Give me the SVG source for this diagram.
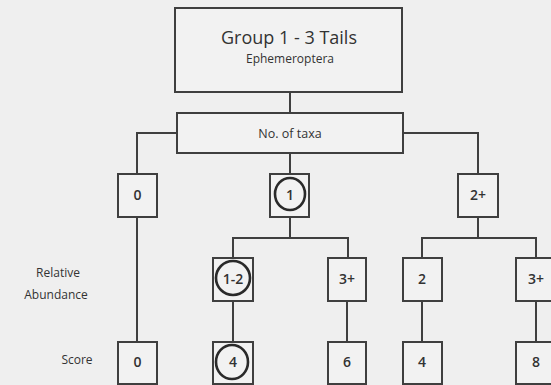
<svg xmlns="http://www.w3.org/2000/svg" width="551" height="385" viewBox="0 0 551 385">
<style>
.bx{fill:#f2f2f2;stroke:#3f3f3f;stroke-width:2}
.ln{fill:none;stroke:#3f3f3f;stroke-width:2}
.ci{fill:none;stroke:#2a2a2a;stroke-width:2.6}
text{font-family:"Open Sans","DejaVu Sans",sans-serif;fill:#333;text-anchor:middle}
.v{font-size:14px;font-weight:600}
.l{font-size:12px}
</style>
<rect width="551" height="385" fill="#efefef"/>
<g id="connectors">
<path class="ln" d="M290 92V113"/>
<path class="ln" d="M177 133H137V174"/>
<path class="ln" d="M403 133H478V174"/>
<path class="ln" d="M290 153V174"/>
<path class="ln" d="M137 217V342"/>
<path class="ln" d="M290 217V238M233 258V238H348V258"/>
<path class="ln" d="M478 217V238M422 258V238H536V258"/>
<path class="ln" d="M233 301V342"/>
<path class="ln" d="M347 301V342"/>
<path class="ln" d="M422 301V342"/>
<path class="ln" d="M536 301V342"/>
</g>
<g id="root"><rect class="bx" x="175" y="8" width="227" height="84"/>
<text x="289" y="44" style="font-size:18px">Group 1 - 3 Tails</text>
<text x="290" y="63" style="font-size:12px">Ephemeroptera</text></g>
<g id="taxa"><rect class="bx" x="177" y="113" width="226" height="40"/>
<text x="290" y="138" style="font-size:12.5px">No. of taxa</text></g>
<g id="n0"><rect class="bx" x="118" y="174" width="39" height="43"/><text class="v" x="137.5" y="200">0</text></g>
<g id="n1"><rect class="bx" x="270" y="174" width="39" height="43"/><text class="v" x="290" y="200">1</text>
<ellipse class="ci" cx="290" cy="194" rx="15" ry="16"/></g>
<g id="n2p"><rect class="bx" x="458" y="174" width="40" height="43"/><text class="v" x="478" y="200">2+</text></g>
<g id="a12"><rect class="bx" x="213" y="258" width="40" height="43"/><text class="v" x="233" y="284">1-2</text>
<ellipse class="ci" cx="233" cy="278" rx="17" ry="17"/></g>
<g id="a3a"><rect class="bx" x="328" y="258" width="38" height="43"/><text class="v" x="347" y="284">3+</text></g>
<g id="a2"><rect class="bx" x="403" y="258" width="39" height="43"/><text class="v" x="422" y="284">2</text></g>
<g id="a3b"><rect class="bx" x="516" y="258" width="40" height="43"/><text class="v" x="536" y="284">3+</text></g>
<g id="s0"><rect class="bx" x="118" y="342" width="39" height="42"/><text class="v" x="137.5" y="367">0</text></g>
<g id="s4a"><rect class="bx" x="213" y="342" width="40" height="42"/><text class="v" x="233" y="367">4</text>
<ellipse class="ci" cx="232" cy="362" rx="16" ry="17"/></g>
<g id="s6"><rect class="bx" x="328" y="342" width="38" height="42"/><text class="v" x="347" y="367">6</text></g>
<g id="s4b"><rect class="bx" x="403" y="342" width="39" height="42"/><text class="v" x="422" y="367">4</text></g>
<g id="s8"><rect class="bx" x="516" y="342" width="40" height="42"/><text class="v" x="536" y="367">8</text></g>
<g id="labels">
<text class="l" x="58" y="277">Relative</text>
<text class="l" x="56" y="299">Abundance</text>
<text class="l" x="77" y="364">Score</text>
</g>
</svg>
